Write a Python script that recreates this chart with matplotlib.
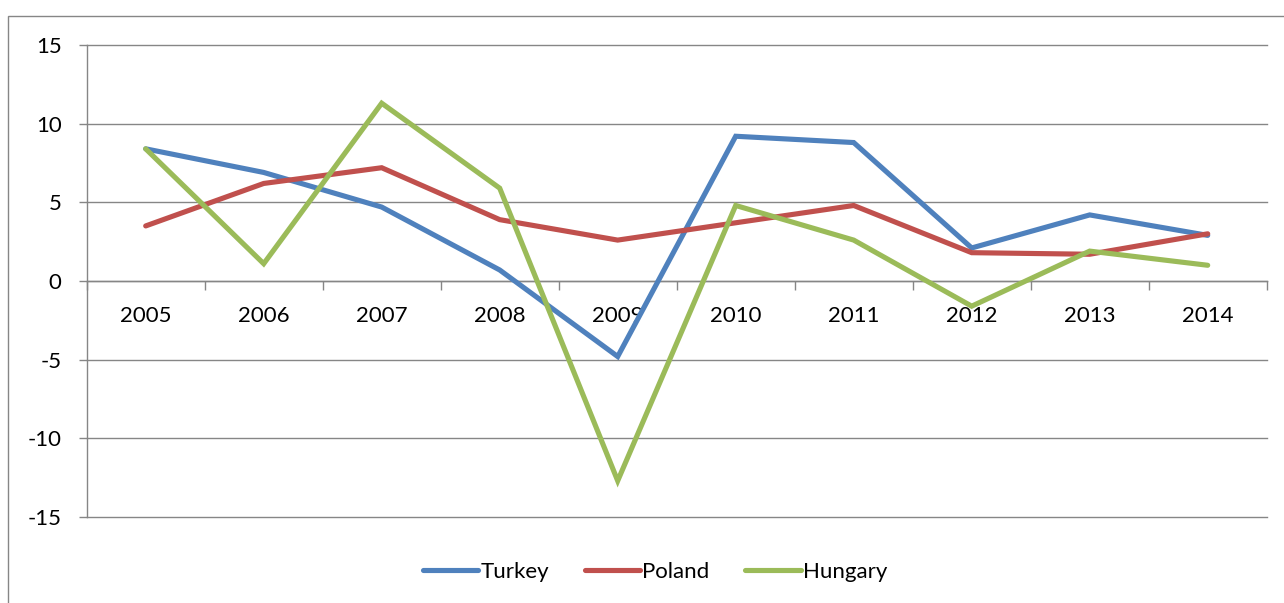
import matplotlib
matplotlib.use("Agg")
import matplotlib.pyplot as plt
from matplotlib.patches import Rectangle
import numpy as np

years = ["2005", "2006", "2007", "2008", "2009", "2010", "2011", "2012", "2013", "2014"]
turkey = [8.4, 6.9, 4.7, 0.7, -4.8, 9.2, 8.8, 2.1, 4.2, 2.9]
poland = [3.5, 6.2, 7.2, 3.9, 2.6, 3.7, 4.8, 1.8, 1.7, 3.0]
hungary = [8.4, 1.1, 11.3, 5.9, -12.7, 4.8, 2.6, -1.6, 1.9, 1.0]
series_names = ["Turkey", "Poland", "Hungary"]
colors = ["#4F81BD", "#C0504D", "#9BBB59"]

plt.rcParams['font.family'] = ['Lato', 'DejaVu Sans']
plt.rcParams['axes.unicode_minus'] = False
W, H = 1284, 603
fig = plt.figure(figsize=(W / 100, H / 100), dpi=100)
left, right, top, bottom = 86.7, 1266.7, 45, 517
ax = fig.add_axes([left / W, (H - bottom) / H, (right - left) / W, (bottom - top) / H])

x = np.arange(len(years))
for vals, name, c in zip([turkey, poland, hungary], series_names, colors):
    ax.plot(x, vals, color=c, lw=3.7, label=name, zorder=4, solid_capstyle='round',
            solid_joinstyle='miter')

ax.set_xlim(-0.5, len(years) - 0.5)
ax.set_ylim(-15, 15)
ax.set_yticks(np.arange(-15, 16, 5))
ax.grid(axis='y', color='#868686', lw=1.0)
ax.set_axisbelow(True)
for gl in ax.get_ygridlines():
    gl.set_clip_on(False)

for s in ['top', 'right']:
    ax.spines[s].set_visible(False)
ax.spines['left'].set_color('#868686')
ax.spines['left'].set_linewidth(1.0)
ax.spines['bottom'].set_position(('data', 0))
ax.spines['bottom'].set_color('#868686')
ax.spines['bottom'].set_linewidth(1.0)

ax.set_xticks(np.arange(-0.5, len(years), 1.0))
ax.set_xticklabels([])
ax.set_xticks(x, minor=True)
ax.set_xticklabels(years, minor=True)
ax.tick_params(axis='x', which='major', direction='out', length=6.5, color='#868686', width=1.0)
ax.tick_params(axis='x', which='minor', length=0, pad=18, labelsize=16)
ax.tick_params(axis='y', direction='out', length=6, color='#868686', width=1.0, pad=12, labelsize=16)

leg = fig.legend(loc='center', bbox_to_anchor=(655 / W, (H - 572) / H), ncol=3, frameon=False,
                 fontsize=16, handlelength=2.5, handletextpad=0.1, columnspacing=1.6)

fig.patches.append(Rectangle((8 / W, -0.1), 1.2, (H - 15.5) / H + 0.1, transform=fig.transFigure,
                             fill=False, edgecolor='#868686', lw=1.0, clip_on=False))

fig.savefig("out.png", dpi=100)
